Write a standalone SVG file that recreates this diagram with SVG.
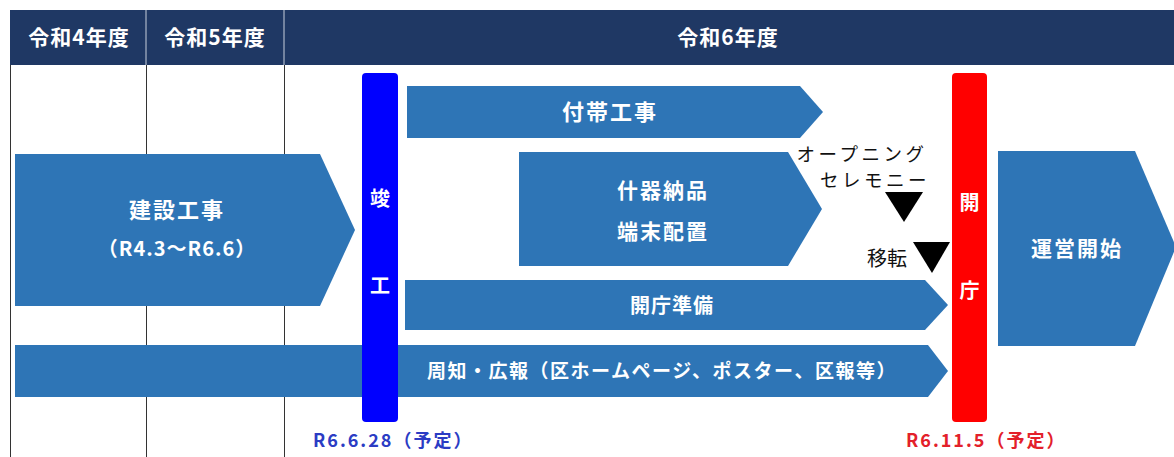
<svg xmlns="http://www.w3.org/2000/svg" width="1174" height="457" viewBox="0 0 1174 457">
<style>
.arr{fill:#2e75b6}
.lbl{font-family:"Noto Sans CJK JP","Noto Sans",sans-serif;font-weight:bold;fill:#ffffff;text-anchor:middle}
.hdr{font-family:"Noto Sans CJK JP","Noto Sans",sans-serif;font-weight:bold;fill:#ffffff;text-anchor:middle;font-size:21px;letter-spacing:1px}
.blk{font-family:"Noto Sans CJK JP","Noto Sans",sans-serif;fill:#111111;text-anchor:middle;font-size:20px}
.cer{font-family:"Noto Sans CJK JP","Noto Sans",sans-serif;fill:#111111;text-anchor:middle;font-size:18.5px;letter-spacing:3.5px}
.date{font-family:"Noto Sans CJK JP","Noto Sans",sans-serif;font-weight:bold;font-size:18px;letter-spacing:2px}
.grid{stroke:#333333;stroke-width:1}
</style>
<rect x="0" y="0" width="1174" height="457" fill="#ffffff"/>
<g id="header">
<rect x="10" y="10" width="1164" height="55" fill="#1f3864"/>
<line x1="146" y1="10" x2="146" y2="65" stroke="#c8cfdc" stroke-width="1"/>
<line x1="284" y1="10" x2="284" y2="65" stroke="#c8cfdc" stroke-width="1"/>
<text class="hdr" x="79" y="45">令和4年度</text>
<text class="hdr" x="215" y="45">令和5年度</text>
<text class="hdr" x="728" y="45">令和6年度</text>
</g>
<g id="grid">
<line class="grid" x1="10.5" y1="65" x2="10.5" y2="457"/>
<line class="grid" x1="146.5" y1="65" x2="146.5" y2="457"/>
<line class="grid" x1="284.5" y1="65" x2="284.5" y2="457"/>
</g>
<g id="construction">
<polygon class="arr" points="15,154 320,154 355,230 320,306 15,306"/>
<text class="lbl" x="177" y="218" font-size="22" letter-spacing="2">建設工事</text>
<text class="lbl" x="177" y="256" font-size="20" letter-spacing="1">（R4.3～R6.6）</text>
</g>
<g id="ancillary">
<polygon class="arr" points="407,86 800,86 823,112 800,138 407,138"/>
<text class="lbl" x="610" y="120" font-size="22" letter-spacing="2">付帯工事</text>
</g>
<g id="furniture">
<polygon class="arr" points="519,152 788,152 822,209 788,266 519,266"/>
<text class="lbl" x="663" y="198" font-size="21" letter-spacing="2">什器納品</text>
<text class="lbl" x="663" y="239" font-size="21" letter-spacing="2">端末配置</text>
</g>
<g id="prep">
<polygon class="arr" points="405,280 925,280 948,305 925,330 405,330"/>
<text class="lbl" x="672" y="313" font-size="20" letter-spacing="1">開庁準備</text>
</g>
<g id="pr">
<polygon class="arr" points="15,345 928,345 948,371 928,397 15,397"/>
<text class="lbl" x="662" y="378" font-size="19" letter-spacing="1.5">周知・広報（区ホームページ、ポスター、区報等）</text>
</g>
<g id="operation">
<polygon class="arr" points="998,151 1135,151 1176,247 1135,346 998,346"/>
<text class="lbl" x="1077" y="256" font-size="21" letter-spacing="2">運営開始</text>
</g>
<g id="completion">
<rect x="362" y="73" width="36" height="349" rx="4" fill="#0000ff"/>
<text class="lbl" x="380" y="206" font-size="20">竣</text>
<text class="lbl" x="380" y="293" font-size="20">工</text>
<text class="date" x="313" y="447" fill="#2b3cc4">R6.6.28（予定）</text>
</g>
<g id="opening">
<rect x="952" y="73" width="35" height="349" rx="4" fill="#ff0000"/>
<text class="lbl" x="969.5" y="210" font-size="20">開</text>
<text class="lbl" x="969.5" y="298" font-size="20">庁</text>
<text class="date" x="906" y="447" fill="#e3202a">R6.11.5（予定）</text>
</g>
<g id="ceremony">
<text class="cer"><tspan x="862" y="161">オープニング</tspan><tspan x="875" y="187">セレモニー</tspan></text>
<polygon points="885,192 923,192 904,222" fill="#000000"/>
</g>
<g id="move">
<text class="blk" x="887" y="266">移転</text>
<polygon points="913,242 950,242 932,273" fill="#000000"/>
</g>
</svg>
